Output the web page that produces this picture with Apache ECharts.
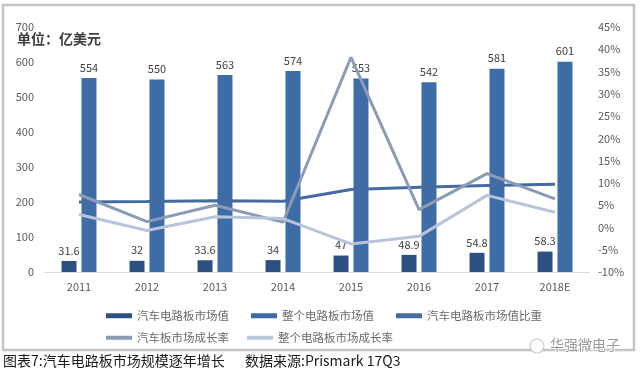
<!DOCTYPE html>
<html>
<head>
<meta charset="utf-8">
<script src="https://cdn.jsdelivr.net/npm/echarts@6/dist/echarts.min.js"></script>
<style>
html,body{margin:0;padding:0;background:#fff;}
#chart{width:640px;height:375px;}
</style>
</head>
<body>
<div id="chart"></div>
<script>
var categories = ['2011','2012','2013','2014','2015','2016','2017','2018E'];
var autoValue = [31.6, 32, 33.6, 34, 47, 48.9, 54.8, 58.3];
var totalValue = [554, 550, 563, 574, 553, 542, 581, 601];
var autoShare = [5.7, 5.8, 6.0, 5.9, 8.5, 9.0, 9.4, 9.7];
var autoGrowth = [7.4, 1.3, 5.0, 1.2, 38.2, 4.0, 12.1, 6.4];
var totalGrowth = [2.9, -0.7, 2.4, 2.0, -3.7, -2.0, 7.2, 3.4];
var leftTicks = {min: 0, max: 700, interval: 100};
var rightTicks = {min: -10, max: 45, interval: 5};

var FONT = '"Noto Sans CJK SC", "Noto Sans", sans-serif';
var chart = echarts.init(document.getElementById('chart'));
var legendText = {color: '#6a6a6a', fontSize: 11.5, fontFamily: FONT};

chart.setOption({
  animation: false,
  backgroundColor: '#fff',
  grid: {left: 45, right: 51, top: 27, bottom: 103, containLabel: false},
  legend: [
    {left: 101, top: 305, itemWidth: 26, itemHeight: 5, itemGap: 22, icon: 'rect',
     textStyle: legendText,
     data: ['汽车电路板市场值', '整个电路板市场值', '汽车电路板市场值比重']},
    {left: 101, top: 327, itemWidth: 26, itemHeight: 4, itemGap: 18, icon: 'rect',
     textStyle: legendText,
     data: ['汽车板市场成长率', '整个电路板市场成长率']}
  ],
  xAxis: {
    type: 'category', data: categories,
    axisLine: {lineStyle: {color: '#d9d9d9', width: 1}},
    axisTick: {show: false},
    axisLabel: {color: '#595959', fontSize: 11, fontFamily: FONT, margin: 9}
  },
  yAxis: [
    {type: 'value', min: leftTicks.min, max: leftTicks.max, interval: leftTicks.interval,
     axisLine: {show: false}, axisTick: {show: false}, splitLine: {show: false},
     axisLabel: {color: '#595959', fontSize: 11, fontFamily: FONT, margin: 11}},
    {type: 'value', min: rightTicks.min, max: rightTicks.max, interval: rightTicks.interval,
     position: 'right',
     axisLine: {show: false}, axisTick: {show: false}, splitLine: {show: false},
     axisLabel: {color: '#595959', fontSize: 11, fontFamily: FONT, margin: 9,
                 formatter: function (v) { return v + '%'; }}}
  ],
  series: [
    {name: '汽车电路板市场值', type: 'bar', data: autoValue, barWidth: 15, barGap: '33%',
     itemStyle: {color: '#2d5082'},
     label: {show: true, position: 'top', distance: 5, color: '#404040', fontSize: 11, fontFamily: FONT}},
    {name: '整个电路板市场值', type: 'bar', data: totalValue, barWidth: 15,
     itemStyle: {color: '#3d6ca7'},
     label: {show: true, position: 'top', distance: 5, color: '#404040', fontSize: 11, fontFamily: FONT}},
    {name: '汽车电路板市场值比重', type: 'line', yAxisIndex: 1, data: autoShare,
     showSymbol: false, symbol: 'none', itemStyle: {color: '#466c9f'},
     lineStyle: {color: '#466c9f', width: 3}},
    {name: '汽车板市场成长率', type: 'line', yAxisIndex: 1, data: autoGrowth,
     showSymbol: false, symbol: 'none', itemStyle: {color: '#8c9bb6'},
     lineStyle: {color: '#8c9bb6', width: 3}},
    {name: '整个电路板市场成长率', type: 'line', yAxisIndex: 1, data: totalGrowth,
     showSymbol: false, symbol: 'none', itemStyle: {color: '#b8c4da'},
     lineStyle: {color: '#b8c4da', width: 3}}
  ],
  graphic: [
    {type: 'rect', shape: {x: 3, y: 5, width: 631, height: 345},
     style: {fill: 'none', stroke: '#c4c4c4', lineWidth: 2.5}, silent: true},
    {type: 'text', left: 17, top: 32,
     style: {text: '单位：亿美元', fill: '#404040', font: 'bold 14px ' + FONT}},
    {type: 'circle', shape: {cx: 537, cy: 346, r: 7},
     style: {fill: '#fff', stroke: '#c8c8c8', lineWidth: 1.2}},
    {type: 'text', left: 549, top: 337,
     style: {text: '华强微电子', fill: '#9a9a9a', font: '14px ' + FONT, stroke: '#fff', lineWidth: 2}},
    {type: 'text', left: 3, top: 354,
     style: {text: '图表7:汽车电路板市场规模逐年增长', fill: '#1a1a1a', font: '14px ' + FONT}},
    {type: 'text', left: 245, top: 354,
     style: {text: '数据来源:Prismark 17Q3', fill: '#1a1a1a', font: '14px ' + FONT}}
  ]
});
</script>
</body>
</html>
